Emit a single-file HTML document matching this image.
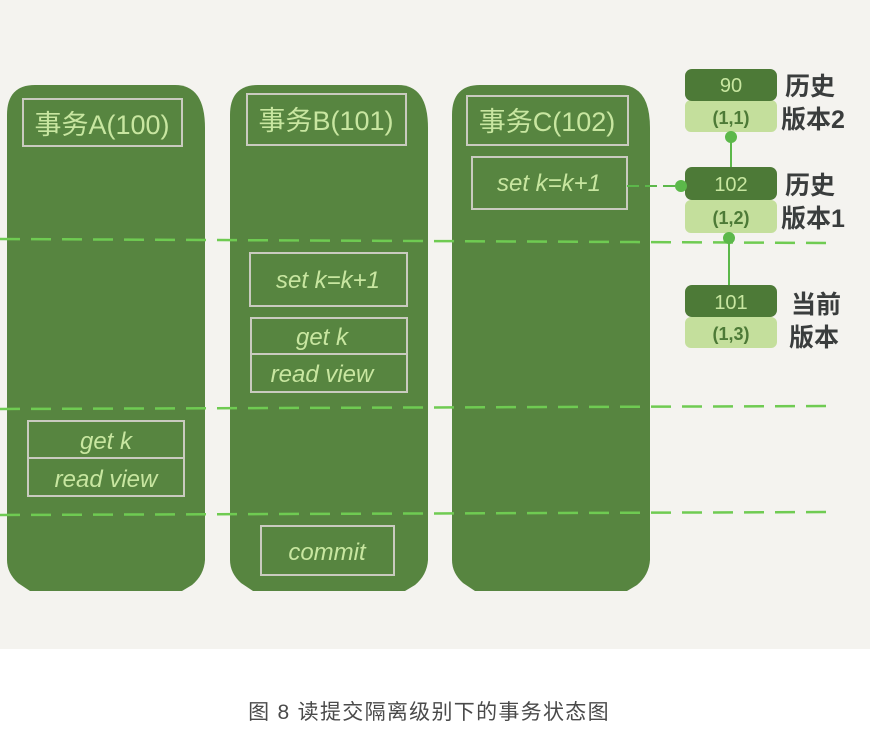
<!DOCTYPE html>
<html>
<head>
<meta charset="utf-8">
<style>
html,body{margin:0;padding:0;background:#fff;}
body{width:870px;height:733px;overflow:hidden;position:relative;}
svg{display:block;}
.t{font-family:"Liberation Sans","Noto Sans CJK SC",sans-serif;}
</style>
</head>
<body>
<svg width="870" height="733" viewBox="0 0 870 733" xmlns="http://www.w3.org/2000/svg">
  <rect x="0" y="0" width="870" height="649" fill="#f4f3ef"/>
  <rect x="0" y="649" width="870" height="84" fill="#ffffff"/>

  <!-- Columns -->
  <g fill="#578540">
    <path d="M7,115 Q7,85 35,85 H175 Q205,85 205,128 V560 Q204,575 192,585 L182,591 H30 L18,583 Q7,573 7,560 Z"/>
    <path d="M230,115 Q230,85 258,85 H398 Q428,85 428,128 V560 Q427,575 415,585 L405,591 H253 L241,583 Q230,573 230,560 Z"/>
    <path d="M452,115 Q452,85 480,85 H620 Q650,85 650,128 V560 Q649,575 637,585 L627,591 H475 L463,583 Q452,573 452,560 Z"/>
  </g>

  <!-- Dashed lines -->
  <g stroke="#6fcb52" stroke-width="2.5" stroke-dasharray="20 11" fill="none">
    <path d="M0,239 L832,243"/>
    <path d="M0,409 L836,406"/>
    <path d="M0,515 L836,512"/>
  </g>

  <!-- Boxes -->
  <g fill="none" stroke="#c9cbbf" stroke-width="2">
    <rect x="23" y="99" width="159" height="47"/>
    <rect x="247" y="94" width="159" height="51"/>
    <rect x="467" y="96" width="161" height="49"/>
    <rect x="472" y="157" width="155" height="52"/>
    <rect x="250" y="253" width="157" height="53"/>
    <rect x="251" y="318" width="156" height="74"/>
    <line x1="251" y1="354" x2="407" y2="354"/>
    <rect x="28" y="421" width="156" height="75"/>
    <line x1="28" y1="458" x2="184" y2="458"/>
    <rect x="261" y="526" width="133" height="49"/>
  </g>

  <!-- Box text -->
  <g class="t" fill="#c8e6a0" text-anchor="middle">
    <text x="102" y="134" font-size="27">事务A(100)</text>
    <text x="326" y="130" font-size="27">事务B(101)</text>
    <text x="547" y="131" font-size="27">事务C(102)</text>
    <text x="549" y="191" font-size="24" font-style="italic">set k=k+1</text>
    <text x="328" y="288" font-size="24" font-style="italic">set k=k+1</text>
    <text x="322" y="345" font-size="24" font-style="italic">get k</text>
    <text x="322" y="382" font-size="24" font-style="italic">read view</text>
    <text x="106" y="449" font-size="24" font-style="italic">get k</text>
    <text x="106" y="487" font-size="24" font-style="italic">read view</text>
    <text x="327" y="560" font-size="24" font-style="italic">commit</text>
  </g>

  <!-- Version stack -->
  <g>
    <rect x="685" y="100" width="92" height="32" rx="6" fill="#c4df9c"/>
    <rect x="685" y="69" width="92" height="32" rx="7" fill="#4d7a37"/>
    <rect x="685" y="200" width="92" height="33" rx="6" fill="#c4df9c"/>
    <rect x="685" y="167" width="92" height="33" rx="7" fill="#4d7a37"/>
    <rect x="685" y="317" width="92" height="31" rx="6" fill="#c4df9c"/>
    <rect x="685" y="285" width="92" height="32" rx="7" fill="#4d7a37"/>
  </g>
  <g class="t" text-anchor="middle">
    <text x="731" y="92" font-size="20" fill="#c8e6a0">90</text>
    <text x="731" y="124" font-size="18" fill="#4d7a37" font-weight="bold">(1,1)</text>
    <text x="731" y="191" font-size="20" fill="#c8e6a0">102</text>
    <text x="731" y="224" font-size="18" fill="#4d7a37" font-weight="bold">(1,2)</text>
    <text x="731" y="309" font-size="20" fill="#c8e6a0">101</text>
    <text x="731" y="340" font-size="18" fill="#4d7a37" font-weight="bold">(1,3)</text>
  </g>

  <!-- Connectors -->
  <g stroke="#5cb84a" stroke-width="2" fill="none">
    <line x1="729" y1="285" x2="729" y2="237"/>
    <line x1="731" y1="167" x2="731" y2="136"/>
    <line x1="627" y1="186" x2="680" y2="186" stroke-dasharray="12 6"/>
  </g>
  <g fill="#5cb84a">
    <circle cx="729" cy="238" r="6"/>
    <circle cx="731" cy="137" r="6"/>
    <circle cx="681" cy="186" r="6"/>
  </g>

  <!-- Labels -->
  <g class="t" fill="#3a3d3d" font-size="25" font-weight="bold">
    <text x="785" y="95">历史</text>
    <text x="781" y="128">版本2</text>
    <text x="785" y="194">历史</text>
    <text x="781" y="227">版本1</text>
    <text x="791" y="313">当前</text>
    <text x="789" y="346">版本</text>
  </g>

  <!-- Caption -->
  <text class="t" x="429" y="719" font-size="21" fill="#4a4a4a" text-anchor="middle" letter-spacing="1.3">图 8 读提交隔离级别下的事务状态图</text>
</svg>
</body>
</html>
